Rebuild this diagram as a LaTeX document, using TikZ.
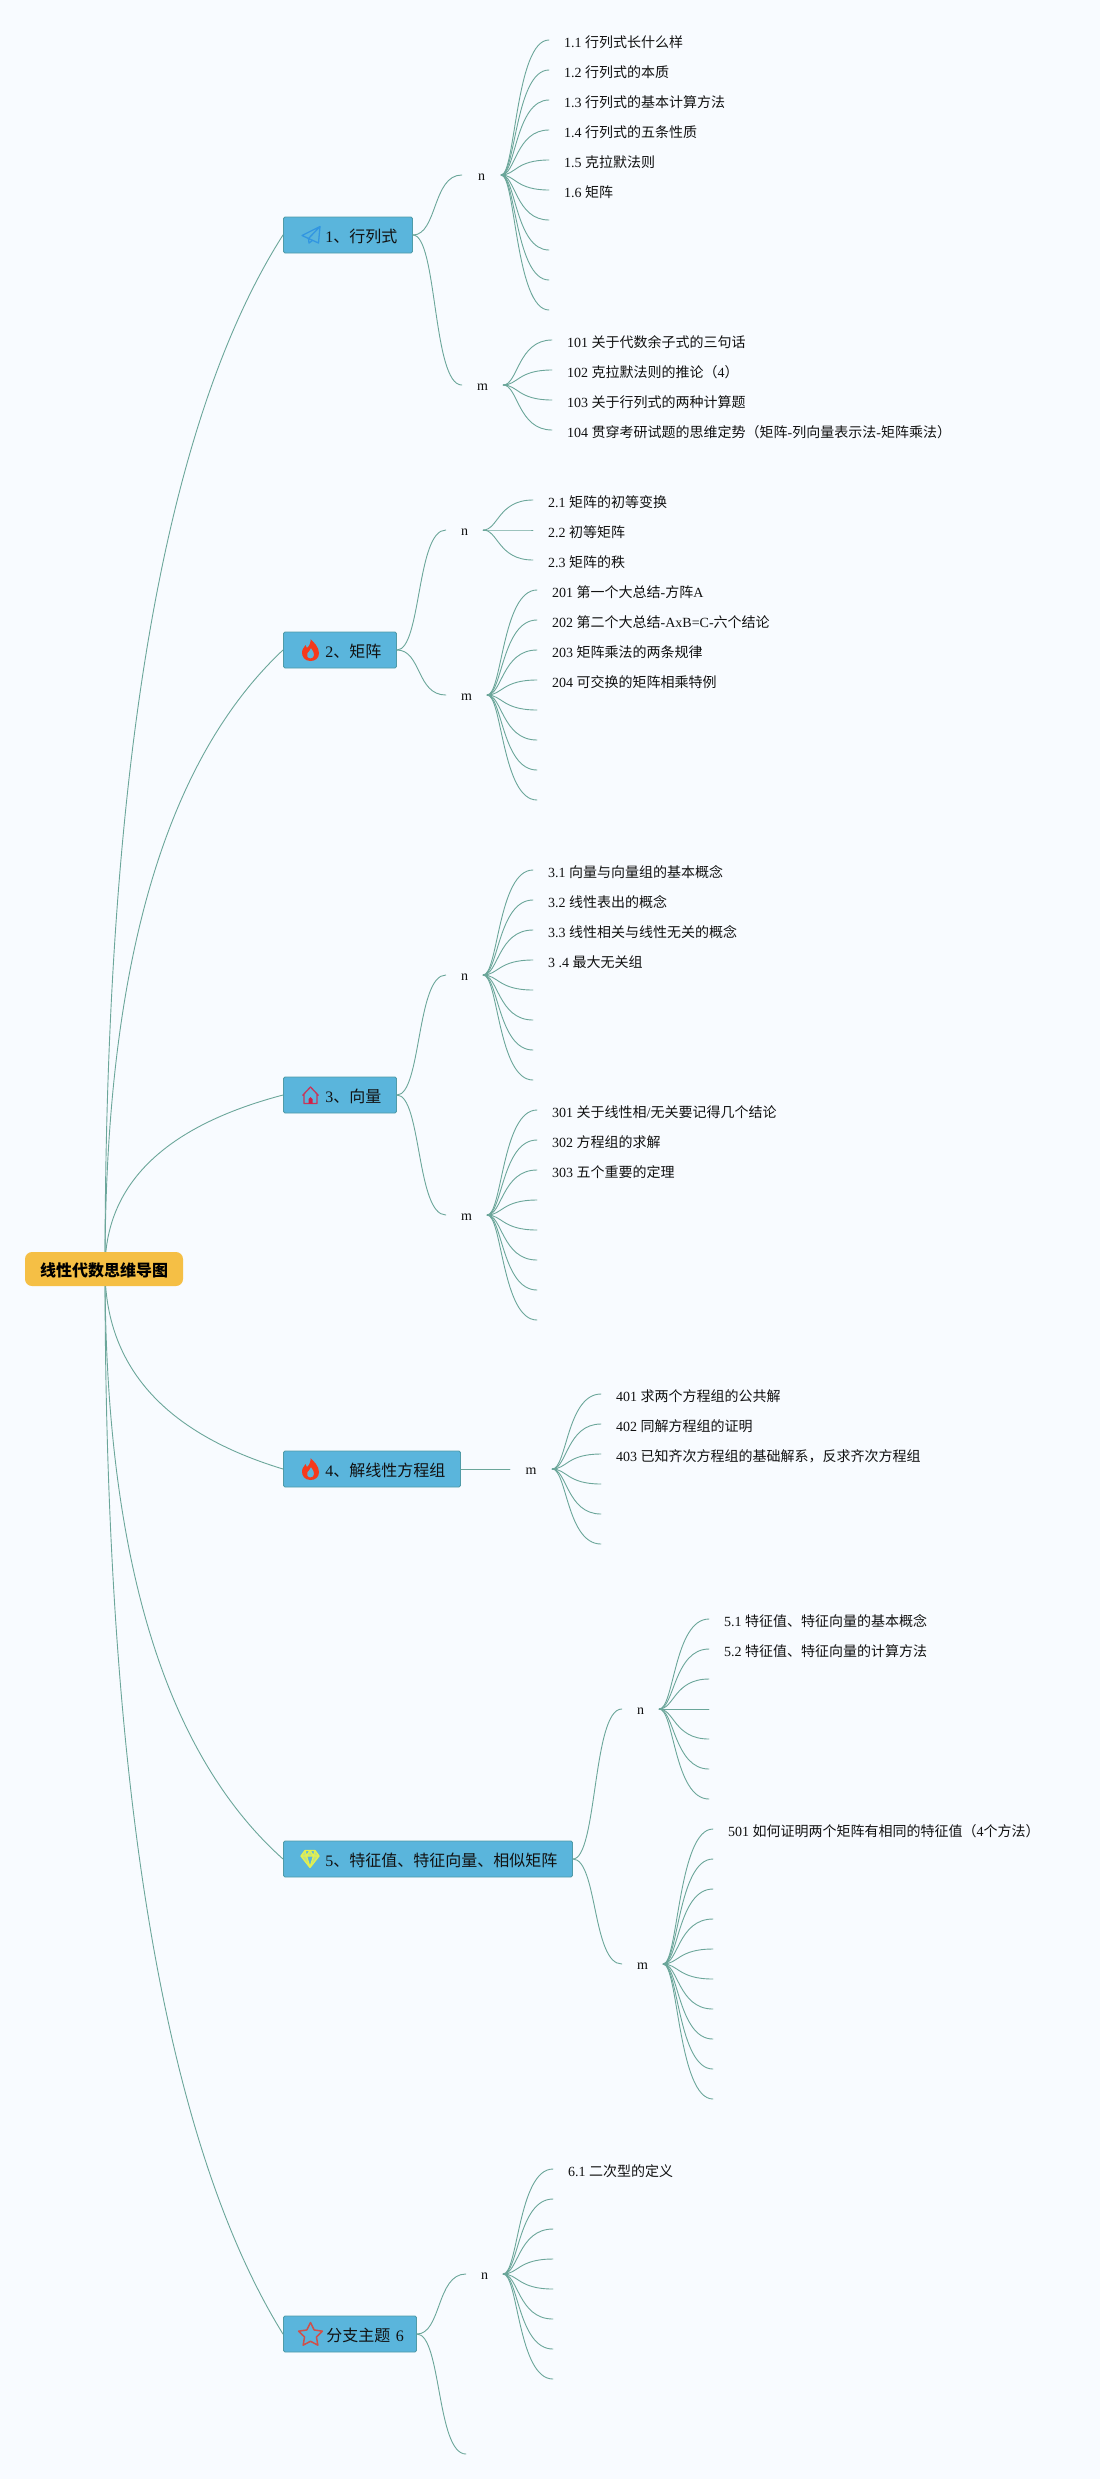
\documentclass[tikz,border=0pt]{standalone}
\usepackage{fontspec}
\setmainfont{Liberation Serif}
\newfontfamily\cjk{Noto Sans CJK SC}
\usetikzlibrary{calc,shapes.geometric}
\pgfdeclarelayer{under}
\pgfsetlayers{under,main}
\definecolor{pagebg}{HTML}{F8FBFF}
\definecolor{linkc}{HTML}{6BA69A}
\definecolor{boxc}{HTML}{5AB5DC}
\definecolor{boxl}{HTML}{4F9BA8}
\definecolor{rootc}{HTML}{F5BF45}
\definecolor{inkc}{HTML}{111111}
\definecolor{planec}{RGB}{50,150,225}
\definecolor{flamec}{RGB}{245,57,28}
\definecolor{housec}{RGB}{200,54,90}
\definecolor{doorc}{RGB}{210,30,70}
\definecolor{gemc}{RGB}{228,240,78}
\definecolor{gemf}{RGB}{190,225,130}
\definecolor{starc}{RGB}{208,80,74}
\newcommand\zh[1]{{\cjk #1}}
\tikzset{
  link/.style={draw=linkc,line width=0.9pt,line cap=round},
  leaf/.style={anchor=west,inner ysep=0pt,inner xsep=15pt,text height=14pt,text depth=0pt,
    text=inkc,font=\fontsize{14}{16}\selectfont},
  midnode/.style={inner sep=0pt,text height=10pt,text depth=0pt,text=inkc,
    font=\fontsize{14}{16}\selectfont},
  topic/.style={anchor=west,draw=boxl,fill=boxc,line width=0.9pt,rounded corners=1.5pt,
    inner sep=0pt,minimum height=36pt,align=left,text height=15.4pt,text depth=0pt,
    text=inkc,font=\fontsize{16}{18}\selectfont},
  rootbox/.style={fill=rootc,rounded corners=7pt,minimum width=158pt,minimum height=34pt,
    inner sep=0pt,text height=15.4pt,text depth=0pt,text=black,
    font=\fontsize{16}{18}\selectfont\bfseries}
}
% root -> topic
\newcommand\rootlink[1]{%
  \begin{pgfonlayer}{under}
  \draw[link] let \p1=(rootport),\p2=(#1.west),\n1={\y2+0.27*(\y1-\y2)} in
    (\p1) .. controls (\x1,{\y1+0.6667*(\n1-\y1)}) and ({\x2+0.6667*(\x1-\x2)},{\y2+0.6667*(\n1-\y2)}) .. (\p2);
  \end{pgfonlayer}}
% topic -> n/m
\newcommand\branchlink[2]{%
  \draw[link] let \p1=(#1.east),\p2=(#2) in
    (\p1) .. controls ({\x1+0.5*(\x2-\x1)},\y1) and ({\x1+0.4*(\x2-\x1)},\y2) .. (\p2);}
% n/m -> leaf
\newcommand\childlink[2]{%
  \draw[link] let \p1=(#1.east),\p2=(#2.west) in
    (\p1) .. controls ({\x1+0.3*(\x2-\x1)},\y1) and ({\x1+0.3*(\x2-\x1)},\y2) .. (\p2);}
\newcommand\fan[5]{%
  \foreach \lbl [count=\i from 0] in {#5} {%
    \pgfmathsetmacro\yy{#4+30*\i}
    \node[leaf] (#2\i) at (#3,\yy) {\lbl};
    \childlink{#1}{#2\i}
  }}
\newcommand\flame[2]{%
  \begin{scope}[shift={(#1,#2)}]
  \fill[even odd rule,fill=flamec]
    (0,11) .. controls (-6,11) and (-8.5,6.5) .. (-8.5,2.5)
    .. controls (-8.5,-1.5) and (-6,-2.5) .. (-5,-5)
    .. controls (-3.5,-4) and (-3.5,-3) .. (-3.5,-2)
    .. controls (-1,-4) and (0.5,-8) .. (0,-11)
    .. controls (3,-8) and (8.5,-3) .. (8.5,3)
    .. controls (8.5,8) and (5,11) .. (0,11) -- cycle
    (0,8.5) .. controls (-3,8.5) and (-4.2,5.5) .. (-3,3)
    .. controls (-2,1) and (0,0.5) .. (0.5,-2)
    .. controls (2,1) and (4.2,2.5) .. (3.6,5)
    .. controls (3.2,7.2) and (2,8.5) .. (0,8.5) -- cycle;
  \end{scope}}
\begin{document}
\begin{tikzpicture}[x=1pt,y=-1pt]
\useasboundingbox (0,0) rectangle (1100,2479);
\begin{pgfonlayer}{under}
\fill[pagebg] (0,0) rectangle (1100,2479);
\end{pgfonlayer}

\coordinate (rootport) at (105,1269);
\node[rootbox] (root) at (104,1269) {\zh{线性代数思维导图}};

% topics
\node[topic,text width=129pt] (t1) at (283,235)  {\hspace*{42pt}1\zh{、行列式}};
\node[topic,text width=113pt] (t2) at (283,650)  {\hspace*{42pt}2\zh{、矩阵}};
\node[topic,text width=113pt] (t3) at (283,1095) {\hspace*{42pt}3\zh{、向量}};
\node[topic,text width=177pt] (t4) at (283,1469) {\hspace*{42pt}4\zh{、解线性方程组}};
\node[topic,text width=289pt] (t5) at (283,1859) {\hspace*{42pt}5\zh{、特征值、特征向量、相似矩阵}};
\node[topic,text width=133pt] (t6) at (283,2334) {\hspace*{43pt}\zh{分支主题} 6};

\rootlink{t1}\rootlink{t2}\rootlink{t3}\rootlink{t4}\rootlink{t5}\rootlink{t6}

% icons
\draw[draw=planec,line width=1.3pt,line join=round]
  (320,226.5) -- (302,235.5) -- (308.5,238.5) -- cycle
  (320,226.5) -- (318.5,243) -- (308.5,238.5)
  (308.5,238.5) -- (309,243) -- (312.5,240.5);
\flame{310.5}{650}
\flame{310.5}{1469}
\draw[draw=housec,line width=1.3pt,line join=round]
  (302.5,1095.5) -- (310.5,1087) -- (318.5,1095.5)
  (304,1094) -- (304,1103.5) -- (317,1103.5) -- (317,1094);
\fill[doorc] (308.5,1103.5) -- (308.5,1099) -- (310.5,1097) -- (312.5,1099) -- (312.5,1103.5) -- cycle;
\draw[draw=gemc,fill=gemf,line width=1.3pt,line join=round]
  (305,1850.5) -- (315,1850.5) -- (319,1856) -- (310,1867.5) -- (301,1856) -- cycle
  (301,1856) -- (319,1856)
  (306.5,1856) -- (310,1867.5) -- (313.5,1856)
  (305,1850.5) -- (306.5,1856) -- (310,1850.5) -- (313.5,1856) -- (315,1850.5);
\node[star,star points=5,star point ratio=2,draw=starc,
  line width=1.5pt,line join=round,minimum size=25pt,inner sep=0pt] (ic6) at (310.5,2335) {};

% topic 1
\node[midnode,minimum width=39pt] (n1) at (481.5,175) {n};
\node[midnode,minimum width=41pt] (m1) at (482.5,385) {m};
\branchlink{t1}{n1.west}\branchlink{t1}{m1.west}
\fan{n1}{na}{549}{40}{{1.1 \zh{行列式长什么样}},{1.2 \zh{行列式的本质}},{1.3 \zh{行列式的基本计算方法}},{1.4 \zh{行列式的五条性质}},{1.5 \zh{克拉默法则}},{1.6 \zh{矩阵}},{},{},{},{}}
\fan{m1}{ma}{552}{340}{{101 \zh{关于代数余子式的三句话}},{102 \zh{克拉默法则的推论（}4\zh{）}},{103 \zh{关于行列式的两种计算题}},{104 \zh{贯穿考研试题的思维定势（矩阵}-\zh{列向量表示法}-\zh{矩阵乘法）}}}

% topic 2
\node[midnode,minimum width=37pt] (n2) at (464.5,530) {n};
\node[midnode,minimum width=41pt] (m2) at (466.5,695) {m};
\branchlink{t2}{n2.west}\branchlink{t2}{m2.west}
\fan{n2}{nb}{533}{500}{{2.1 \zh{矩阵的初等变换}},{2.2 \zh{初等矩阵}},{2.3 \zh{矩阵的秩}}}
\fan{m2}{mb}{537}{590}{{201 \zh{第一个大总结}-\zh{方阵}A},{202 \zh{第二个大总结}-AxB=C-\zh{六个结论}},{203 \zh{矩阵乘法的两条规律}},{204 \zh{可交换的矩阵相乘特例}},{},{},{},{}}

% topic 3
\node[midnode,minimum width=37pt] (n3) at (464.5,975) {n};
\node[midnode,minimum width=41pt] (m3) at (466.5,1215) {m};
\branchlink{t3}{n3.west}\branchlink{t3}{m3.west}
\fan{n3}{nc}{533}{870}{{3.1 \zh{向量与向量组的基本概念}},{3.2 \zh{线性表出的概念}},{3.3 \zh{线性相关与线性无关的概念}},{3 .4 \zh{最大无关组}},{},{},{},{}}
\fan{m3}{mc}{537}{1110}{{301 \zh{关于线性相}/\zh{无关要记得几个结论}},{302 \zh{方程组的求解}},{303 \zh{五个重要的定理}},{},{},{},{},{}}

% topic 4
\node[midnode,minimum width=42pt] (m4) at (531,1469) {m};
\draw[link] (t4.east) -- (m4.west);
\fan{m4}{md}{601}{1394}{{401 \zh{求两个方程组的公共解}},{402 \zh{同解方程组的证明}},{403 \zh{已知齐次方程组的基础解系，反求齐次方程组}},{},{},{}}

% topic 5
\node[midnode,minimum width=37pt] (n5) at (640.5,1709) {n};
\node[midnode,minimum width=41pt] (m5) at (642.5,1964) {m};
\branchlink{t5}{n5.west}\branchlink{t5}{m5.west}
\fan{n5}{ne}{709}{1619}{{5.1 \zh{特征值、特征向量的基本概念}},{5.2 \zh{特征值、特征向量的计算方法}},{},{},{},{},{}}
\fan{m5}{me}{713}{1829}{{501 \zh{如何证明两个矩阵有相同的特征值（}4\zh{个方法）}},{},{},{},{},{},{},{},{},{}}

% topic 6
\node[midnode,minimum width=37pt] (n6) at (484.5,2274) {n};
\coordinate (f6) at (466,2454);
\branchlink{t6}{n6.west}\branchlink{t6}{f6}
\fan{n6}{nf}{553}{2169}{{6.1 \zh{二次型的定义}},{},{},{},{},{},{},{}}
\end{tikzpicture}
\end{document}
